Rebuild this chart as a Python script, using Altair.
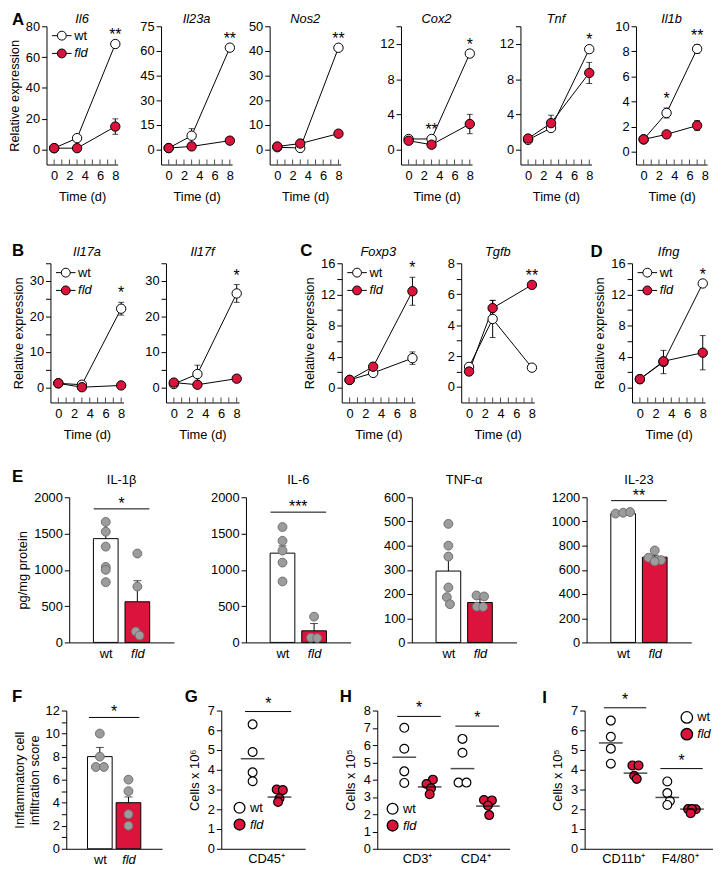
import altair as alt
import pandas as pd

FONT = "Liberation Sans"
RED = "#DC143C"
DOT_FILL = "#9C9C9C"
DOT_EDGE = "#6E6E6E"
GENOS = ["wt", "fld"]

# ---------------- A-D : relative expression time courses ----------------
days = [0, 3, 8]
days_il1b = [0, 3, 7]
time_ticks = list(range(9))

il6_wt = [1.0, 7.5, 68.5];    il6_wt_err = [0, 0, 0]
il6_fld = [1.0, 1.0, 15.0];   il6_fld_err = [0, 0, 5.0]
il23a_wt = [1.0, 8.5, 62.0];  il23a_wt_err = [0, 4.3, 0]
il23a_fld = [1.0, 2.0, 5.5];  il23a_fld_err = [0, 0, 0]
nos2_wt = [1.0, 0.7, 41.3];   nos2_wt_err = [0, 0, 0]
nos2_fld = [1.3, 2.5, 6.5];   nos2_fld_err = [0, 0, 0]
cox2_wt = [1.2, 1.2, 10.9];   cox2_wt_err = [0, 0, 0]
cox2_fld = [1.0, 0.55, 2.9];  cox2_fld_err = [0, 0, 1.1]
tnf_wt = [1.1, 2.45, 11.4];   tnf_wt_err = [0, 0.3, 0]
tnf_fld = [1.25, 3.0, 8.7];   tnf_fld_err = [0, 0.9, 1.2]
il1b_wt = [1.0, 3.1, 8.2];    il1b_wt_err = [0, 0.4, 0.35]
il1b_fld = [1.0, 1.4, 2.1];   il1b_fld_err = [0, 0, 0.4]
il17a_wt = [1.2, 0.8, 22.2];  il17a_wt_err = [0, 0, 1.8]
il17a_fld = [1.2, 0.1, 0.6];  il17a_fld_err = [0, 0, 0]
il17f_wt = [1.0, 3.8, 26.5];  il17f_wt_err = [0, 2.5, 2.5]
il17f_fld = [1.4, 0.8, 2.5];  il17f_fld_err = [0, 0, 0]
foxp3_wt = [1.0, 1.9, 3.8];   foxp3_wt_err = [0, 0.3, 0.8]
foxp3_fld = [1.0, 2.7, 12.4]; foxp3_fld_err = [0, 0.5, 1.8]
tgfb_wt = [1.3, 4.4, 1.25];   tgfb_wt_err = [0, 1.2, 0]
tgfb_fld = [1.0, 5.1, 6.6];   tgfb_fld_err = [0, 0.5, 0]
ifng_wt = [1.1, 3.3, 13.4];   ifng_wt_err = [0, 1.5, 0]
ifng_fld = [1.1, 3.4, 4.5];   ifng_fld_err = [0, 0, 2.2]

stars_il6 = [(8, "**")]
stars_il23a = [(8, "**")]
stars_nos2 = [(8, "**")]
stars_cox2 = [(3, "**"), (8, "*")]
stars_tnf = [(8, "*")]
stars_il1b = [(3, "*"), (7, "**")]
stars_il17a = [(8, "*")]
stars_il17f = [(8, "*")]
stars_foxp3 = [(8, "*")]
stars_tgfb = [(8, "**")]
stars_ifng = [(8, "*")]

# ---------------- E : cytokine protein ----------------
il1b_p_mean = [1430, 560];  il1b_p_err = [210, 290]
il1b_p_wt = [1660, 1525, 1320, 1040, 1000, 830]
il1b_p_fld = [1225, 770, 150, 95]
il6_p_mean = [1230, 160];   il6_p_err = [100, 100]
il6_p_wt = [1590, 1400, 1265, 1100, 840]
il6_p_fld = [355, 65, 60]
tnf_p_mean = [295, 165];    tnf_p_err = [55, 15]
tnf_p_wt = [490, 400, 355, 227, 187, 158]
tnf_p_fld = [194, 190, 148, 147]
il23_p_mean = [1065, 705];  il23_p_err = [10, 15]
il23_p_wt = [1065, 1072, 1078]
il23_p_fld = [760, 700, 680, 670]

# ---------------- F : infiltration score ----------------
score_mean = [8.0, 4.0]; score_err = [0.8, 0.5]
score_wt = [10, 8, 7.1, 7.1]
score_fld = [6, 5, 3, 2]

# ---------------- G-I : cell counts ----------------
g_cats = ["CD45⁺"]
g_wt = [[6.3, 4.9, 3.87, 3.42]]
g_fld = [[3.0, 2.97, 2.55, 2.37]]
g_wt_mean = [4.56]; g_fld_mean = [2.62]
g_sig = [6.95]

h_cats = ["CD3⁺", "CD4⁺"]
h_wt = [[7.0, 5.79, 4.48, 3.81], [6.36, 5.56, 3.83, 3.83]]
h_fld = [[4.0, 3.75, 3.5, 3.16], [2.82, 2.8, 2.5, 1.95]]
h_wt_mean = [5.3, 4.64]; h_fld_mean = [3.58, 2.47]
h_sig = [7.66, 7.1]

i_cats = ["CD11b⁺", "F4/80⁺"]
i_wt = [[6.49, 5.67, 5.07, 4.31], [3.41, 2.82, 2.42, 2.22]]
i_fld = [[4.22, 4.22, 3.7, 3.54], [2.01, 2.0, 2.01, 1.8]]
i_wt_mean = [5.36, 2.6]; i_fld_mean = [3.83, 2.01]
i_sig = [7.14, 4.06]

# "-o-" legend glyph (circle drawn with Bezier curves, short line on both sides)
LINE_SYMBOL = ("M-2.2,0L-1,0M1,0L2.2,0M1,0C1,0.552,0.552,1,0,1C-0.552,1,-1,0.552,-1,0"
               "C-1,-0.552,-0.552,-1,0,-1C0.552,-1,1,-0.552,1,0Z")
ITALIC_FLD = alt.ExprRef(expr="datum.label == 'fld' ? 'italic' : 'normal'")
ORIGIN = 8


def fill_scale():
    return alt.Scale(domain=GENOS, range=["white", RED])


def label_layer(text, x, y, size=13, weight="normal", style="normal", align="center", baseline="alphabetic"):
    return alt.Chart(pd.DataFrame({"t": [text]})).mark_text(
        align=align, baseline=baseline, fontSize=size, fontWeight=weight, fontStyle=style,
        font=FONT, color="black"
    ).encode(x=alt.value(x), y=alt.value(y), text="t:N")


def time_panel(gene, d, wt, wte, fld, flde, stars, ydom, ymajor, yminor, width, height,
               ytitle=None, legend_xy=None, title_y=-4):
    rows = []
    for geno, vals, errs in zip(GENOS, (wt, fld), (wte, flde)):
        for day, v, e in zip(d, vals, errs):
            rows.append({"day": day, "val": v, "lo": v - e, "hi": v + e, "err": e, "geno": geno})
    df = pd.DataFrame(rows)
    edf = df[df["err"] > 0]
    sdf = pd.DataFrame([{"day": dd, "top": df.loc[df["day"] == dd, "hi"].max(), "s": s} for dd, s in stars])

    xsc = alt.Scale(domain=[-1, 8.3], nice=False, zero=False)
    ysc = alt.Scale(domain=ydom, nice=False, zero=False)
    xax = alt.Axis(values=[0, 2, 4, 6, 8], ticks=False, title="Time (d)", labelPadding=5, titlePadding=8)
    yvals = sorted(set(ymajor) | set(yminor))
    yax = alt.Axis(values=yvals, labelExpr=f"indexof({list(ymajor)}, datum.value) >= 0 ? datum.label : ''",
                   title=ytitle, format="d")

    def X(f):
        return alt.X(f, type="quantitative", scale=xsc, axis=xax)

    def Y(f):
        return alt.Y(f, type="quantitative", scale=ysc, axis=yax)

    layers = []
    layers.append(alt.Chart(pd.DataFrame({"t": time_ticks})).mark_tick(
        orient="vertical", size=5, thickness=1, color="black", yOffset=-2.5
    ).encode(x=X("t"), y=alt.value(height)))
    if len(edf):
        layers.append(alt.Chart(edf).mark_rule(color="black", strokeWidth=1).encode(
            x=X("day"), y=Y("lo"), y2="hi:Q"))
        layers.append(alt.Chart(edf).transform_fold(["lo", "hi"], as_=["k", "cv"]).mark_tick(
            orient="horizontal", size=6, thickness=1, color="black").encode(x=X("day"), y=Y("cv")))
    layers.append(alt.Chart(df).mark_line(color="black", strokeWidth=1).encode(
        x=X("day"), y=Y("val"), detail="geno:N"))
    if legend_xy:
        leg = alt.Legend(title=None, orient="none", legendX=legend_xy[0], legendY=legend_xy[1],
                         symbolType=LINE_SYMBOL, symbolSize=81, symbolStrokeColor="black",
                         symbolStrokeWidth=1, symbolOpacity=1, labelFontSize=13, labelFont=FONT,
                         labelFontStyle=ITALIC_FLD, labelOffset=6, rowPadding=4, padding=0)
    else:
        leg = None
    layers.append(alt.Chart(df).mark_point(
        filled=True, size=90, stroke="black", strokeWidth=1, opacity=1
    ).encode(x=X("day"), y=Y("val"), fill=alt.Fill("geno:N", scale=fill_scale(), legend=leg)))
    layers.append(alt.Chart(sdf).mark_text(
        fontSize=16, baseline="alphabetic", dy=-4, font=FONT, color="black"
    ).encode(x=X("day"), y=Y("top"), text="s:N"))
    layers.append(label_layer(gene, width / 2, title_y, style="italic"))
    return alt.layer(*layers).properties(width=width, height=height)


def bar_panel(title, mean, err, wt_dots, fld_dots, wt_jit, fld_jit, ydom, ymajor, yminor, sig,
              width, height, ytitle=None):
    bdf = pd.DataFrame({"pos": [1, 2], "mean": mean,
                        "top": [m + e for m, e in zip(mean, err)], "geno": GENOS})
    ddf = pd.DataFrame({"pos": [1 + j for j in wt_jit] + [2 + j for j in fld_jit],
                        "val": list(wt_dots) + list(fld_dots)})
    xsc = alt.Scale(domain=[0, 3], nice=False, zero=False)
    ysc = alt.Scale(domain=ydom, nice=False, zero=False)
    xax = alt.Axis(values=[1, 2], labelExpr=f"datum.value == 1 ? '{GENOS[0]}' : '{GENOS[1]}'",
                   labelFontStyle={"condition": {"test": "datum.value == 2", "value": "italic"},
                                   "value": "normal"},
                   ticks=False, title=None, labelPadding=5)
    yvals = sorted(set(ymajor) | set(yminor))
    yax = alt.Axis(values=yvals, labelExpr=f"indexof({list(ymajor)}, datum.value) >= 0 ? datum.label : ''",
                   title=ytitle, format="d")

    def X(f):
        return alt.X(f, type="quantitative", scale=xsc, axis=xax)

    def Y(f):
        return alt.Y(f, type="quantitative", scale=ysc, axis=yax)

    layers = [
        alt.Chart(bdf).mark_bar(size=25, stroke="black", strokeWidth=1).encode(
            x=X("pos"), y=Y("mean"), fill=alt.Fill("geno:N", scale=fill_scale(), legend=None)),
        alt.Chart(bdf).mark_rule(color="black", strokeWidth=1).encode(x=X("pos"), y=Y("mean"), y2="top:Q"),
        alt.Chart(bdf).mark_tick(orient="horizontal", size=8, thickness=1, color="black").encode(
            x=X("pos"), y=Y("top")),
        alt.Chart(ddf).mark_point(filled=True, size=80, fill=DOT_FILL, stroke=DOT_EDGE,
                                  strokeWidth=1, opacity=1).encode(x=X("pos"), y=Y("val")),
    ]
    if sig:
        sdf = pd.DataFrame({"x1": [0.62], "x2": [2.38], "xm": [1.5], "y": [sig[0]], "s": [sig[1]]})
        layers.append(alt.Chart(sdf).mark_rule(color="black", strokeWidth=1).encode(
            x=X("x1"), x2="x2:Q", y=Y("y")))
        layers.append(alt.Chart(sdf).mark_text(fontSize=16, baseline="alphabetic", dy=0,
                                               font=FONT, color="black").encode(
            x=X("xm"), y=Y("y"), text="s:N"))
    if title:
        layers.append(label_layer(title, width / 2, -13))
    return alt.layer(*layers).properties(width=width, height=height)


def cat_label_expr(centers, cats):
    expr = "''"
    for c, name in reversed(list(zip(centers, cats))):
        expr = f"abs(datum.value - {c}) < 0.01 ? '{name}' : ({expr})"
    return expr


def scatter_panel(cats, centers, xmax, wt_vals, fld_vals, wt_jit, fld_jit, wt_mean, fld_mean, sig_y,
                  ydom, yticks, width, height, ytitle, legend_spec):
    rows = []
    for c, wv, fv, wj, fj in zip(centers, wt_vals, fld_vals, wt_jit, fld_jit):
        for v, j in zip(wv, wj):
            rows.append({"pos": c - 0.48 + j, "val": v, "geno": "wt"})
        for v, j in zip(fv, fj):
            rows.append({"pos": c + 0.48 + j, "val": v, "geno": "fld"})
    df = pd.DataFrame(rows)
    mdf = pd.DataFrame({"pos": [c - 0.48 for c in centers] + [c + 0.48 for c in centers],
                        "m": list(wt_mean) + list(fld_mean)})
    sdf = pd.DataFrame({"x1": [c - 0.75 for c in centers], "x2": [c + 0.9 for c in centers],
                        "xm": [c + 0.08 for c in centers], "y": sig_y, "s": ["*"] * len(centers)})
    xsc = alt.Scale(domain=[0, xmax], nice=False, zero=False)
    ysc = alt.Scale(domain=ydom, nice=False, zero=False)
    xax = alt.Axis(values=list(centers), labelExpr=cat_label_expr(centers, cats), ticks=False,
                   title=None, labelPadding=4, labelFontSize=13)
    yax = alt.Axis(values=yticks, title=ytitle, titlePadding=6, format="d")

    def X(f):
        return alt.X(f, type="quantitative", scale=xsc, axis=xax)

    def Y(f):
        return alt.Y(f, type="quantitative", scale=ysc, axis=yax)

    lx, ly, lsize, lpad = legend_spec
    leg = alt.Legend(title=None, orient="none", legendX=lx, legendY=ly, symbolType="circle",
                     symbolSize=lsize, symbolStrokeColor="black", symbolStrokeWidth=1.3,
                     symbolOpacity=1, labelFontSize=13, labelFont=FONT, labelFontStyle=ITALIC_FLD,
                     labelOffset=4, rowPadding=lpad, padding=0)
    layers = [
        alt.Chart(sdf).mark_rule(color="black", strokeWidth=1).encode(x=X("x1"), x2="x2:Q", y=Y("y")),
        alt.Chart(sdf).mark_text(fontSize=16, baseline="alphabetic", dy=-3, font=FONT,
                                 color="black").encode(x=X("xm"), y=Y("y"), text="s:N"),
        alt.Chart(df).mark_point(filled=True, size=80, stroke="black", strokeWidth=1.2, opacity=1).encode(
            x=X("pos"), y=Y("val"), fill=alt.Fill("geno:N", scale=fill_scale(), legend=leg)),
        alt.Chart(mdf).mark_tick(orient="horizontal", size=24, thickness=1.5, color="black").encode(
            x=X("pos"), y=Y("m")),
    ]
    return alt.layer(*layers).properties(width=width, height=height)


def hspace(w, h, letter=None, extent=None):
    """Empty spacer; optional panel letter and an invisible rule fixing the row's vertical extent."""
    top, bottom = extent if extent else (0, 1)
    base = alt.Chart(pd.DataFrame({"v": [0]})).mark_rule(strokeOpacity=0).encode(
        x=alt.value(0), y=alt.value(top), y2=alt.value(bottom))
    if letter:
        t, lx, ly = letter
        base = alt.layer(base, label_layer(t, lx, ly, size=17, weight="bold", align="left", baseline="top"))
    return base.properties(width=w, height=h)


def make_row(items, height, letters, above, below):
    """items: (chart, page-x of plot left, plot width).
    letters: {panel index: (letter, page-x, dy above plot top)} drawn in the spacer before that panel.
    above/below: reserved space over / under the plot areas of this row."""
    gaps = [items[i + 1][1] - (items[i][1] + items[i][2]) for i in range(len(items) - 1)]
    s = max(1, min(gaps) // 2 - 1)
    lefts = [ORIGIN] + [items[i][1] + items[i][2] + s for i in range(len(items) - 1)]
    widths = [items[0][1] - ORIGIN - s] + [g - 2 * s for g in gaps]
    charts = []
    for i, it in enumerate(items):
        lt = None
        if i in letters:
            t, px, dy = letters[i]
            lt = (t, px - lefts[i], dy)
        ext = (-above, height + below) if i == 0 else None
        charts.append(hspace(widths[i], height, lt, ext))
        charts.append(it[0])
    return alt.hconcat(*charts, spacing=s, bounds="flush").resolve_scale(
        fill="independent").resolve_legend(fill="independent")


# vertical plan (page y of plot tops): A 21, B 261, E 498, F 714
RE = "Relative expression"
HA, WA = 140, 72
LEG_TS = (9, 3)
row_a = make_row([
    (time_panel("Il6", days, il6_wt, il6_wt_err, il6_fld, il6_fld_err, stars_il6, [-9.6, 80],
                [0, 20, 40, 60, 80], [], WA, HA, ytitle=RE, legend_xy=LEG_TS, title_y=-3), 43, WA),
    (time_panel("Il23a", days, il23a_wt, il23a_wt_err, il23a_fld, il23a_fld_err, stars_il23a, [-9, 75],
                [0, 15, 30, 45, 60, 75], [], WA, HA, title_y=-3), 159, WA),
    (time_panel("Nos2", days, nos2_wt, nos2_wt_err, nos2_fld, nos2_fld_err, stars_nos2, [-6, 50],
                [0, 10, 20, 30, 40, 50], [], WA, HA, title_y=-3), 269, WA),
    (time_panel("Cox2", days, cox2_wt, cox2_wt_err, cox2_fld, cox2_fld_err, stars_cox2, [-1.7, 14],
                [0, 4, 8, 12], [14], WA, HA, title_y=-3), 402, WA),
    (time_panel("Tnf", days, tnf_wt, tnf_wt_err, tnf_fld, tnf_fld_err, stars_tnf, [-1.7, 14],
                [0, 4, 8, 12], [14], WA, HA, title_y=-3), 523, WA),
    (time_panel("Il1b", days_il1b, il1b_wt, il1b_wt_err, il1b_fld, il1b_fld_err, stars_il1b, [-1, 10],
                [0, 2, 4, 6, 8, 10], [], WA, HA, title_y=-3), 640, WA),
], HA, {0: ("A", ORIGIN, -14)}, above=32, below=70)

HB, WB = 141, 74
row_b = make_row([
    (time_panel("Il17a", days, il17a_wt, il17a_wt_err, il17a_fld, il17a_fld_err, stars_il17a, [-4.2, 35],
                [0, 10, 20, 30], [5, 15, 25, 35], WB, HB, ytitle=RE, legend_xy=LEG_TS, title_y=-7), 47, WB),
    (time_panel("Il17f", days, il17f_wt, il17f_wt_err, il17f_fld, il17f_fld_err, stars_il17f, [-4.2, 35],
                [0, 10, 20, 30], [5, 15, 25, 35], WB, HB, title_y=-7), 164, WB),
    (time_panel("Foxp3", days, foxp3_wt, foxp3_wt_err, foxp3_fld, foxp3_fld_err, stars_foxp3, [-1.9, 16],
                [0, 4, 8, 12, 16], [2, 6, 10, 14], WB, HB, ytitle=RE, legend_xy=LEG_TS, title_y=-7), 342, WB),
    (time_panel("Tgfb", days, tgfb_wt, tgfb_wt_err, tgfb_fld, tgfb_fld_err, stars_tgfb, [-1, 8],
                [0, 2, 4, 6, 8], [1, 3, 5, 7], WB, HB, title_y=-7), 463, WB),
    (time_panel("Ifng", days, ifng_wt, ifng_wt_err, ifng_fld, ifng_fld_err, stars_ifng, [-1.9, 16],
                [0, 4, 8, 12, 16], [2, 6, 10, 14], WB, HB, ytitle=RE, legend_xy=LEG_TS, title_y=-7), 636, WB),
], HB, {0: ("B", ORIGIN, -20), 2: ("C", 300, -20), 4: ("D", 594, -19)}, above=30, below=61)

HE, WE = 147, 106
row_e = make_row([
    (bar_panel("IL-1β", il1b_p_mean, il1b_p_err, il1b_p_wt, il1b_p_fld, [0, 0, 0, 0, 0, 0],
               [0, 0, -0.05, 0.07], [0, 2000], [0, 500, 1000, 1500, 2000], [], (1840, "*"), WE, HE,
               ytitle="pg/mg protein"), 66, WE),
    (bar_panel("IL-6", il6_p_mean, il6_p_err, il6_p_wt, il6_p_fld, [0, 0, 0, 0, 0],
               [0, -0.1, 0.1], [0, 2000], [0, 500, 1000, 1500, 2000], [], (1795, "***"), WE, HE), 245, WE),
    (bar_panel("TNF-α", tnf_p_mean, tnf_p_err, tnf_p_wt, tnf_p_fld, [0, 0, 0, 0, -0.05, 0.05],
               [-0.11, 0.13, -0.1, 0.1], [0, 600], [0, 100, 200, 300, 400, 500, 600], [], None, WE, HE), 413, WE),
    (bar_panel("IL-23", il23_p_mean, il23_p_err, il23_p_wt, il23_p_fld, [-0.24, 0, 0.22],
               [0, -0.2, 0.2, 0], [0, 1200], [0, 200, 400, 600, 800, 1000, 1200], [], (1172, "**"), WE, HE), 590, WE),
], HE, {0: ("E", ORIGIN, -28)}, above=35, below=39)

HF = 140
row_f = make_row([
    (bar_panel(None, score_mean, score_err, score_wt, score_fld, [0, 0, -0.14, 0.14], [0, 0, 0, 0],
               [0, 12], [0, 2, 4, 6, 8, 10, 12], [1, 3, 5, 7, 9, 11], (11.4, "*"), 97, HF,
               ytitle=["Inflammatory cell", "infiltration score"]), 63, 97),
    (scatter_panel(g_cats, [1.6], 3, g_wt, g_fld, [[0, 0, 0, 0]], [[-0.1, 0.12, 0.0, -0.05]],
                   g_wt_mean, g_fld_mean, g_sig, [0, 7], list(range(8)), 85, HF, "Cells x 10⁶",
                   (12, 92, 120, 0)), 220, 85),
    (scatter_panel(h_cats, [1.5, 3.7], 5, h_wt, h_fld, [[0, 0, 0, 0], [0, 0, -0.15, 0.15]],
                   [[0.12, -0.12, 0.05, 0.0], [-0.15, 0.15, 0, 0.05]],
                   h_wt_mean, h_fld_mean, h_sig, [0, 8], list(range(9)), 134, HF, "Cells x 10⁵",
                   (9, 93, 120, 0)), 378, 134),
    (scatter_panel(i_cats, [1.5, 3.7], 5, i_wt, i_fld, [[0, 0, 0, 0], [0, 0, 0.1, 0]],
                   [[-0.12, 0.12, -0.05, 0.05], [-0.15, 0.15, 0, -0.05]],
                   i_wt_mean, i_fld_mean, i_sig, [0, 7], list(range(8)), 130, HF, "Cells x 10⁵",
                   (97, 0.5, 135, 0)), 588, 130),
], HF, {0: ("F", ORIGIN, -22), 1: ("G", 183, -22), 2: ("H", 340, -22), 3: ("I", 545, -21)},
    above=30, below=18)

chart = alt.vconcat(
    row_a, row_b, row_e, row_f, spacing=0
).resolve_scale(fill="independent").resolve_legend(fill="independent").properties(
    padding={"left": 0, "top": -19, "right": 0, "bottom": 0}
).configure_view(
    stroke=None
).configure_axis(
    domainColor="black", domainWidth=1, tickColor="black", tickWidth=1, tickSize=5,
    labelColor="black", titleColor="black", labelFont=FONT, titleFont=FONT,
    labelFontSize=13, titleFontSize=13, titleFontWeight="normal", grid=False,
    labelPadding=2, labelOverlap=False, labelFlush=False
).configure_legend(
    labelFont=FONT, labelFontSize=13, labelColor="black"
)

chart.save("out.html", embed_options={"renderer": "svg", "actions": False})
